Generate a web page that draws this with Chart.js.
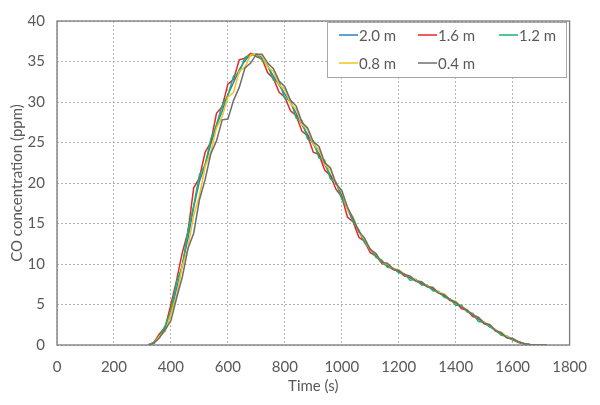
<!DOCTYPE html>
<html>
<head>
<meta charset="utf-8">
<script src="https://cdn.jsdelivr.net/npm/chart.js@4.4.1/dist/chart.umd.min.js"></script>
<style>
  html, body { margin: 0; padding: 0; background: #fff; }
  #wrap { width: 600px; height: 405px; }
</style>
</head>
<body>
<div id="wrap"><canvas id="chart" width="600" height="405"></canvas></div>
<script>
// Time axis (s), shared by all series
const timeSec = [
  320, 340, 360, 380, 400, 420, 440, 460, 480, 500,
  520, 540, 560, 580, 600, 620, 640, 660, 680, 700,
  720, 740, 760, 780, 800, 820, 840, 860, 880, 900,
  920, 940, 960, 980, 1000, 1020, 1040, 1060, 1080, 1100,
  1120, 1140, 1160, 1180, 1200, 1220, 1240, 1260, 1280, 1300,
  1320, 1340, 1360, 1380, 1400, 1420, 1440, 1460, 1480, 1500,
  1520, 1540, 1560, 1580, 1600, 1620, 1640, 1660, 1680, 1700, 1720
];

// CO concentration (ppm) at each height
const co20 = [
  0, 0.3, 1.2, 2.1, 4.1, 7.0, 9.9, 13.2, 17.0, 20.2,
  22.2, 24.8, 27.1, 28.9, 30.9, 32.4, 34.0, 35.1, 35.9, 35.9,
  35.5, 34.4, 33.2, 32.1, 31.0, 29.9, 28.6, 27.2, 26.0, 24.8,
  23.6, 22.3, 21.0, 20.0, 18.5, 16.8, 15.3, 14.0, 12.8, 11.8,
  11.0, 10.3, 9.8, 9.4, 9.1, 8.7, 8.3, 8.0, 7.6, 7.3,
  6.9, 6.5, 6.1, 5.6, 5.2, 4.7, 4.2, 3.7, 3.2, 2.8,
  2.3, 1.8, 1.4, 1.0, 0.7, 0.4, 0.15, 0.05, 0, 0, 0
];
const co16 = [
  0, 0.3, 1.4, 2.2, 5.0, 8.0, 11.4, 14.0, 19.4, 20.6,
  23.8, 25.0, 28.6, 29.4, 32.2, 32.8, 35.2, 35.4, 36.0, 35.6,
  35.3, 33.6, 32.9, 31.2, 30.6, 28.9, 28.3, 26.4, 25.8, 23.8,
  23.5, 21.6, 20.9, 19.2, 18.3, 15.8, 15.2, 13.3, 12.8, 11.4,
  11.0, 10.1, 9.8, 9.3, 9.1, 8.5, 8.4, 7.9, 7.6, 7.2,
  6.9, 6.4, 6.1, 5.5, 5.3, 4.5, 4.3, 3.5, 3.3, 2.6,
  2.4, 1.7, 1.4, 0.9, 0.7, 0.3, 0.15, 0.05, 0, 0, 0
];
const co12 = [
  0, 0.3, 1.1, 2.4, 4.2, 7.8, 9.7, 14.2, 17.2, 21.0,
  22.2, 25.4, 27.2, 29.6, 30.8, 33.2, 33.6, 35.5, 35.7, 35.9,
  35.2, 34.5, 32.7, 32.5, 30.4, 30.2, 28.0, 27.7, 25.4, 25.2,
  23.1, 22.8, 20.5, 20.1, 18.0, 17.0, 15.2, 14.2, 12.6, 11.9,
  10.8, 10.5, 9.6, 9.5, 8.9, 8.8, 8.0, 8.1, 7.4, 7.4,
  6.7, 6.6, 5.9, 5.7, 4.9, 4.9, 4.1, 3.9, 2.9, 2.8,
  2.2, 1.9, 1.2, 1.1, 0.6, 0.4, 0.15, 0.05, 0, 0, 0
];
const co08 = [
  0, 0.2, 1.1, 1.7, 3.8, 6.1, 9.7, 12.0, 16.0, 18.4,
  22.0, 23.8, 26.8, 28.2, 30.6, 31.2, 33.8, 34.3, 35.8, 35.9,
  35.7, 34.3, 33.8, 32.1, 31.6, 29.8, 29.1, 27.2, 26.6, 24.8,
  24.1, 22.3, 21.6, 19.8, 19.0, 16.7, 15.8, 13.9, 13.1, 11.7,
  11.3, 10.2, 10.0, 9.4, 9.3, 8.7, 8.5, 8.0, 7.8, 7.3,
  7.1, 6.5, 6.3, 5.6, 5.4, 4.7, 4.4, 3.7, 3.4, 2.8,
  2.5, 1.8, 1.6, 1.0, 0.8, 0.4, 0.2, 0.05, 0, 0, 0
];
const co04 = [
  0, 0.2, 0.9, 1.9, 3.0, 5.8, 8.4, 11.9, 13.8, 17.9,
  20.4, 23.6, 25.2, 27.8, 27.9, 30.2, 31.8, 34.2, 34.8, 35.9,
  35.9, 34.8, 34.1, 32.6, 31.9, 30.2, 29.5, 27.5, 26.8, 25.1,
  24.5, 22.5, 21.9, 19.9, 19.1, 17.0, 15.6, 14.0, 13.2, 11.8,
  11.3, 10.2, 10.1, 9.4, 9.2, 8.7, 8.5, 7.9, 7.8, 7.2,
  7.1, 6.4, 6.2, 5.6, 5.3, 4.7, 4.3, 3.7, 3.4, 2.7,
  2.5, 1.8, 1.5, 0.9, 0.8, 0.4, 0.2, 0.05, 0, 0, 0
];

const seriesNames = ['2.0 m', '1.6 m', '1.2 m', '0.8 m', '0.4 m'];
const seriesValues = [co20, co16, co12, co08, co04];
const seriesColors = ['#2f7fc8', '#e8262b', '#1db36a', '#f7c31a', '#6e6e6e'];

const FONT = 'Lato, "Open Sans", sans-serif';
const TEXT_COLOR = '#595959';

// Legend box drawn inside the plot area, top right
const insideLegend = {
  id: 'insideLegend',
  afterDatasetsDraw(chart) {
    const ctx = chart.ctx;
    const box = { left: 327, top: 22, right: 566, bottom: 77 };
    const cols = [339, 418, 499];
    const rows = [35, 63];

    ctx.save();
    ctx.fillStyle = '#ffffff';
    ctx.fillRect(box.left, box.top, box.right - box.left, box.bottom - box.top);
    ctx.strokeStyle = '#a6a6a6';
    ctx.lineWidth = 1;
    ctx.strokeRect(box.left + 0.5, box.top + 0.5, box.right - box.left, box.bottom - box.top);

    ctx.font = '15px ' + FONT;
    ctx.textBaseline = 'middle';
    ctx.textAlign = 'left';
    seriesNames.forEach(function (name, i) {
      const x = cols[i % 3];
      const y = rows[Math.floor(i / 3)];
      ctx.strokeStyle = seriesColors[i];
      ctx.lineWidth = 1.5;
      ctx.beginPath();
      ctx.moveTo(x, y);
      ctx.lineTo(x + 19, y);
      ctx.stroke();
      ctx.fillStyle = TEXT_COLOR;
      ctx.fillText(name, x + 20, y + 1);
    });
    ctx.restore();
  }
};

// Solid frame around the plot area
const plotFrame = {
  id: 'plotFrame',
  afterDraw(chart) {
    const a = chart.chartArea;
    const ctx = chart.ctx;
    ctx.save();
    ctx.strokeStyle = '#7a7a7a';
    ctx.lineWidth = 1.3;
    ctx.strokeRect(a.left, a.top, a.right - a.left, a.bottom - a.top);
    ctx.restore();
  }
};

const datasets = seriesNames.map(function (name, i) {
  return {
    label: name,
    data: timeSec.map(function (t, k) { return { x: t, y: seriesValues[i][k] }; }),
    borderColor: seriesColors[i],
    backgroundColor: seriesColors[i],
    borderWidth: 1.5,
    pointRadius: 0,
    tension: 0,
    fill: false,
    order: seriesNames.length - i
  };
});

new Chart(document.getElementById('chart').getContext('2d'), {
  type: 'line',
  data: { datasets: datasets },
  options: {
    responsive: false,
    animation: false,
    layout: { padding: { top: 12, right: 24, left: 0, bottom: 0 } },
    plugins: {
      legend: { display: false },
      tooltip: { enabled: false }
    },
    scales: {
      x: {
        type: 'linear',
        min: 0,
        max: 1800,
        ticks: {
          stepSize: 200,
          padding: 13,
          color: TEXT_COLOR,
          font: { family: FONT, size: 15 },
          callback: function (v) { return String(v); }
        },
        grid: { color: '#b4b4b4', drawTicks: false, borderDash: [2, 2] },
        border: { display: false, dash: [2, 2] },
        title: {
          display: true,
          text: 'Time (s)',
          color: TEXT_COLOR,
          font: { family: FONT, size: 15 },
          padding: { top: 0, bottom: 10 }
        },
        afterFit: function (scale) { scale.height = 60; }
      },
      y: {
        min: 0,
        max: 40,
        ticks: {
          stepSize: 5,
          padding: 12,
          color: TEXT_COLOR,
          font: { family: FONT, size: 15 }
        },
        grid: { color: '#b4b4b4', drawTicks: false, borderDash: [2, 2] },
        border: { display: false, dash: [2, 2] },
        title: {
          display: true,
          text: 'CO concentration (ppm)',
          color: TEXT_COLOR,
          font: { family: FONT, size: 15 },
          padding: { top: 8, bottom: 0 }
        },
        afterFit: function (scale) { scale.width = 57; }
      }
    }
  },
  plugins: [insideLegend, plotFrame]
});
</script>
</body>
</html>
